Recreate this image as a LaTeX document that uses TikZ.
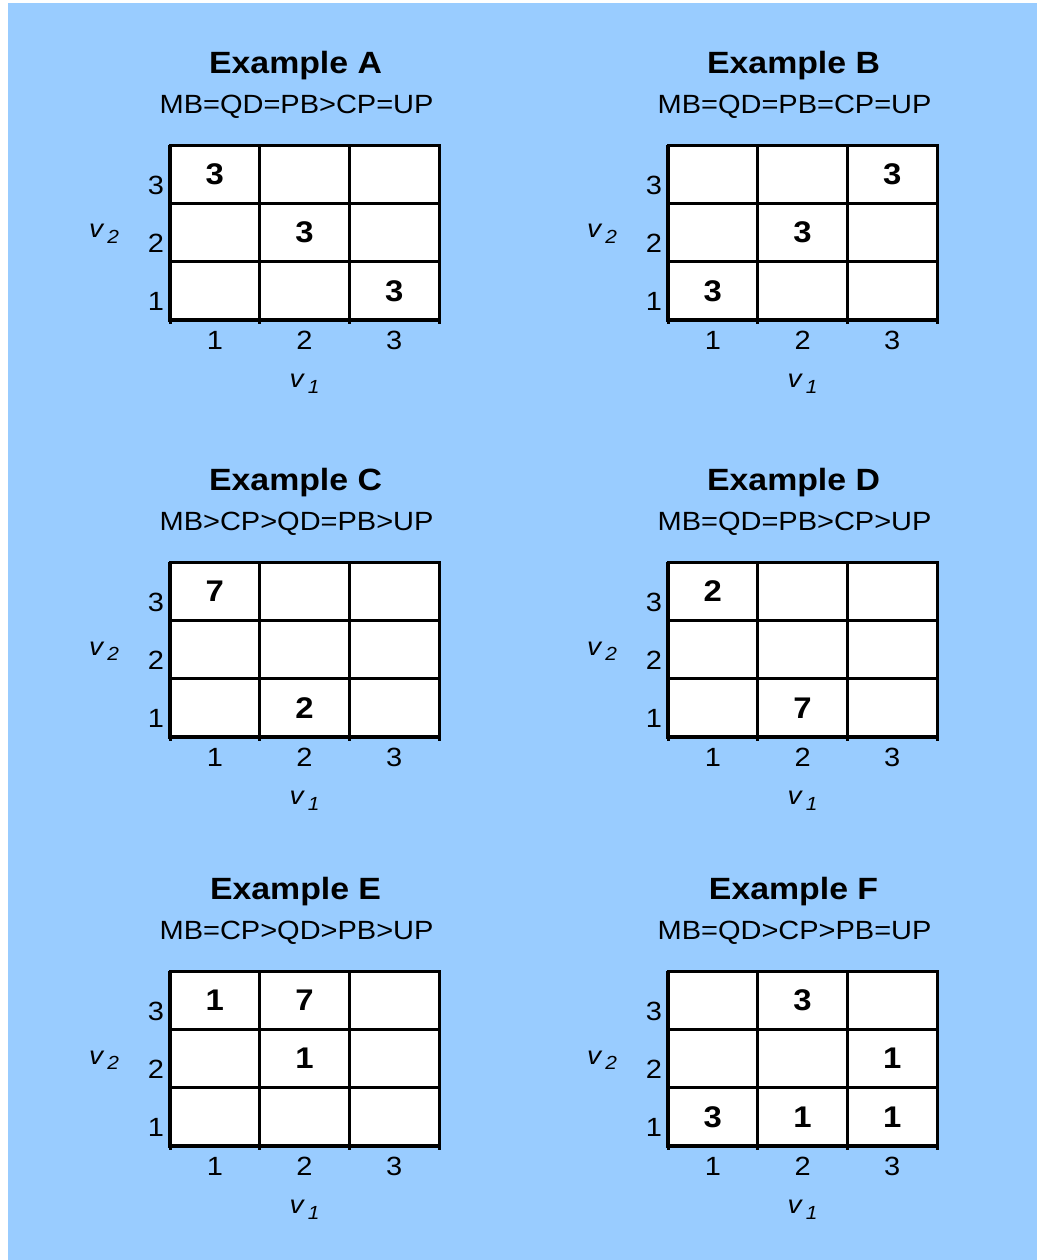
\documentclass[tikz,border=0pt]{standalone}
\usepackage{fontspec}
\setmainfont{Liberation Sans}[FakeStretch=1.1]
\usetikzlibrary{calc}
\definecolor{skyback}{HTML}{99CCFF}
\newcommand\axvar[1]{v\hspace{2.5pt}\raisebox{-3.2pt}{\fontsize{10.8}{12}\selectfont #1}}
\tikzset{
    % Text
    ttl/.style={font=\fontsize{17.5}{20}\selectfont\bfseries, anchor=base, inner sep=0pt},
    rank/.style={font=\fontsize{15}{17}\selectfont, anchor=base, inner sep=0pt},
    tick/.style={font=\fontsize{15}{17}\selectfont, anchor=base, inner sep=0pt},
    axlbl/.style={font=\fontsize{14.5}{16}\selectfont\itshape, anchor=base, inner sep=0pt},
    val/.style={font=\fontsize{17}{19}\selectfont\bfseries, inner sep=0pt},
    % Grid
    cell/.style={rectangle, draw, fill=white, line width=1.7pt, inner sep=0pt, outer sep=0pt,
                 minimum width=1.794cm, minimum height=1.166cm},
    axisline/.style={line width=2.3pt},
    tickline/.style={line width=1.7pt}
}

\begin{document}
\begin{tikzpicture}[x=0.02cm, y=-0.02cm]

\useasboundingbox (0,0) rectangle (1037,1260);
\fill[skyback] (8,3) rectangle (1037,1260);

\foreach \pn/\gx/\gy/\rk/\vals in {
    A/170/145/{MB=QD=PB>CP=UP}/{1/3/3,2/2/3,3/1/3},
    B/668/145/{MB=QD=PB=CP=UP}/{3/3/3,2/2/3,1/1/3},
    C/170/562/{MB>CP>QD=PB>UP}/{1/3/7,2/1/2},
    D/668/562/{MB=QD=PB>CP>UP}/{1/3/2,2/1/7},
    E/170/971/{MB=CP>QD>PB>UP}/{1/3/1,2/3/7,2/2/1},
    F/668/971/{MB=QD>CP>PB=UP}/{2/3/3,3/2/1,1/1/3,2/1/1,3/1/1}}{
  % cells
  \foreach \c in {1,2,3}
    \foreach \r in {1,2,3}
      \node[cell] (cell-\pn-\c-\r) at ({\gx+(\c-0.5)*89.7},{\gy+(3.5-\r)*58.33}) {};
  \foreach \c/\r/\v in \vals
    \node[val] (val-\pn-\c-\r) at (cell-\pn-\c-\r) {\v};
  % axes
  \draw[axisline] (cell-\pn-1-3.north west) -- (cell-\pn-1-1.south west) -- (cell-\pn-3-1.south east);
  \draw[tickline] (cell-\pn-1-1.south west) -- ++(0,4);
  \foreach \c in {1,2,3}
    \draw[tickline] (cell-\pn-\c-1.south east) -- ++(0,4);
  \foreach \r in {1,2,3}
    \node[tick] (ytick-\pn-\r) at ($(cell-\pn-1-\r.south west)+(-14,-9)$) {\r};
  \foreach \c in {1,2,3}
    \node[tick] (xtick-\pn-\c) at ($(cell-\pn-\c-1.south)+(0,30)$) {\c};
  \node[axlbl] (vone-\pn) at ($(cell-\pn-2-1.south)+(0,68)$) {\axvar{1}};
  \node[axlbl] (vtwo-\pn) at ($(cell-\pn-1-2.west)+(-66,5.5)$) {\axvar{2}};
  % headings
  \node[ttl] (ttl-\pn) at ($(cell-\pn-2-3.north)+(-9,-72)$) {Example \pn};
  \node[rank] (rank-\pn) at ($(cell-\pn-2-3.north)+(-8,-32)$) {\rk};
}

\end{tikzpicture}
\end{document}
